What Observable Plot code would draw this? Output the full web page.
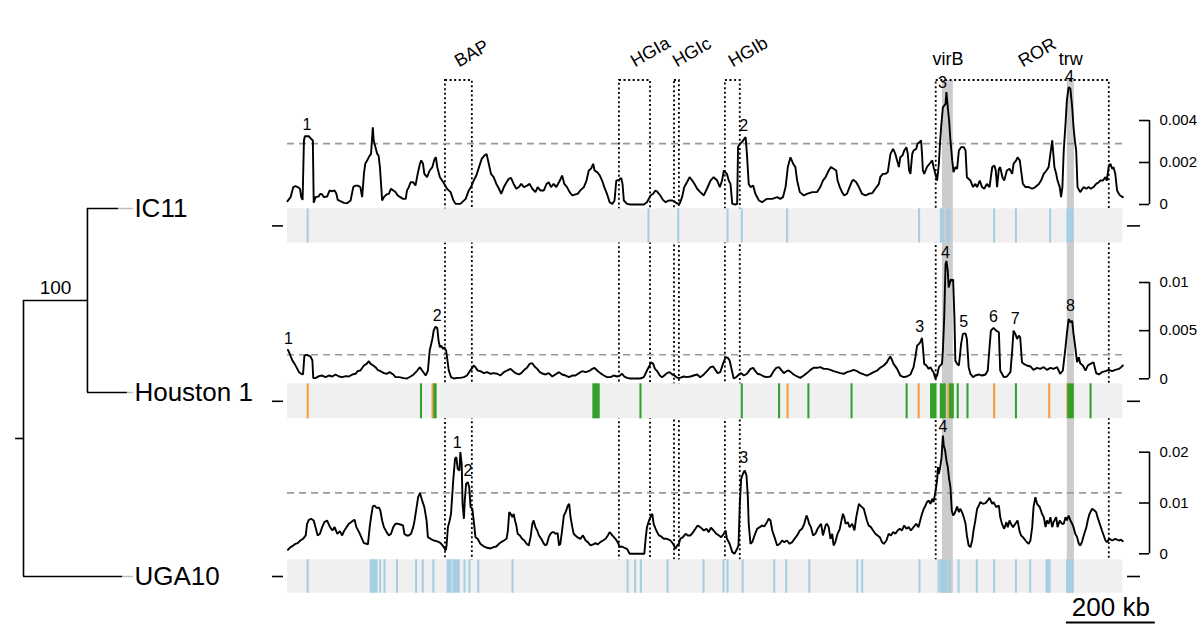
<!DOCTYPE html>
<html><head><meta charset="utf-8">
<script src="https://cdn.jsdelivr.net/npm/d3@7"></script>
<script src="https://cdn.jsdelivr.net/npm/@observablehq/plot@0.6"></script>
<style>
html,body{margin:0;padding:0;background:#fff;}
#fig{position:relative;width:1200px;height:640px;overflow:hidden;background:#fff;}
#fig svg{position:absolute;left:0;top:0;}
</style></head><body><div id="fig"></div>
<script>
// ---------- DATA ----------
const genomeLength = 1880;        // kb
const xDomain = [0, 1940];        // kb shown (genome + room for right axes)

// sliding-window density, [position kb, density x 1e-4]
const ic11Density = [[0,1.6],[7,3.5],[13,8.3],[18,8.7],[23,8.3],[28,7.5],[31,3.5],[34,2.2],[37,30.5],[39,32.5],[48,32.5],[53,31.3],[57,30.5],[59,0.8],[63,3.5],[70,3.8],[74,5.1],[78,4.8],[82,3.5],[89,3.8],[95,6.7],[100,6.3],[106,6.7],[110,5.1],[113,2.2],[119,1.6],[127,0.8],[134,0.6],[142,1.9],[148,8.3],[153,9.0],[158,9.0],[164,8.3],[168,3.5],[172,14.6],[175,19.4],[181,21.7],[185,23.3],[188,24.1],[192,36.8],[194,30.5],[198,27.3],[202,24.1],[205,23.3],[208,17.8],[211,8.3],[213,1.9],[217,3.5],[223,4.8],[228,5.1],[233,7.5],[238,6.7],[243,5.9],[248,4.3],[254,3.5],[260,2.7],[266,2.7],[269,6.7],[273,8.3],[277,10.6],[283,10.6],[288,9.0],[293,14.6],[298,19.4],[301,21.0],[305,19.4],[308,14.6],[314,13.0],[320,16.2],[326,17.8],[331,21.7],[334,22.5],[337,17.8],[343,13.0],[348,11.4],[353,9.8],[359,7.5],[367,5.9],[373,2.2],[378,0.3],[389,0.3],[401,2.7],[408,6.7],[413,8.3],[419,11.4],[425,13.8],[431,17.8],[437,21.7],[443,23.3],[448,24.1],[453,19.4],[458,14.6],[464,13.0],[470,9.8],[476,7.5],[481,5.1],[487,8.3],[493,10.6],[498,12.2],[503,12.7],[509,9.8],[515,7.5],[521,8.3],[526,9.8],[532,8.3],[539,9.0],[545,9.8],[551,7.5],[558,5.9],[563,8.3],[569,6.7],[577,6.7],[583,9.8],[588,10.6],[593,8.3],[599,9.8],[605,8.3],[613,11.4],[618,13.8],[623,9.8],[629,8.3],[635,5.9],[641,4.3],[648,4.8],[653,5.1],[659,6.7],[667,8.3],[673,11.4],[678,16.2],[683,17.0],[688,19.4],[691,16.2],[697,15.4],[703,13.8],[708,11.4],[713,8.3],[719,5.1],[725,1.1],[731,0.3],[736,1.9],[740,11.4],[746,11.7],[751,12.7],[754,9.8],[757,1.9],[764,0.3],[772,0],[802,0],[809,1.1],[817,4.3],[823,5.1],[828,6.7],[833,5.9],[839,4.3],[845,2.2],[851,1.1],[858,1.9],[866,1.9],[873,1.1],[878,0.3],[883,0.6],[888,3.5],[893,8.3],[899,10.6],[905,13.0],[911,11.4],[916,9.8],[922,7.5],[929,5.9],[937,4.3],[944,7.5],[952,11.4],[959,13.0],[967,11.4],[973,8.3],[978,11.4],[982,16.2],[985,15.4],[989,14.6],[993,11.4],[997,9.8],[1001,0.3],[1008,0],[1012,0.3],[1014,27.3],[1018,28.9],[1023,29.7],[1028,31.3],[1031,32.1],[1034,24.1],[1038,9.8],[1042,8.3],[1048,9.0],[1053,5.1],[1061,1.9],[1068,1.1],[1079,2.7],[1091,2.7],[1102,3.5],[1109,2.7],[1115,3.5],[1121,8.3],[1126,17.8],[1132,22.5],[1138,19.4],[1143,17.8],[1147,11.4],[1153,5.9],[1162,4.3],[1169,5.1],[1181,5.9],[1192,5.9],[1199,8.3],[1205,11.4],[1211,13.0],[1218,16.2],[1223,17.8],[1229,17.0],[1235,16.2],[1238,11.4],[1243,8.3],[1248,5.9],[1253,4.3],[1259,5.1],[1265,8.3],[1271,11.4],[1274,11.7],[1280,10.6],[1286,8.3],[1293,5.1],[1301,4.3],[1308,5.1],[1316,5.4],[1323,7.5],[1331,9.8],[1334,13.0],[1340,14.6],[1346,14.6],[1351,15.4],[1357,24.1],[1363,26.5],[1368,24.1],[1372,21.0],[1376,17.8],[1379,22.5],[1384,23.3],[1388,25.7],[1393,27.3],[1396,24.1],[1399,16.2],[1402,14.6],[1406,24.1],[1409,25.7],[1415,26.5],[1418,28.9],[1423,29.7],[1426,30.5],[1428,24.1],[1430,16.2],[1433,14.6],[1439,17.8],[1445,19.4],[1451,21.0],[1454,17.8],[1458,14.6],[1462,11.4],[1466,19.4],[1468,27.3],[1471,36.8],[1475,46.3],[1478,47.1],[1481,47.9],[1483,53.5],[1486,46.3],[1489,40.0],[1492,30.5],[1496,21.0],[1499,15.4],[1503,17.8],[1507,17.0],[1511,25.7],[1516,27.3],[1522,27.3],[1526,25.7],[1529,13.0],[1537,11.4],[1543,8.3],[1548,9.8],[1552,8.3],[1558,11.4],[1563,8.3],[1568,7.5],[1574,9.8],[1580,8.3],[1586,17.8],[1591,18.6],[1594,16.2],[1597,8.3],[1601,17.0],[1604,17.8],[1609,13.0],[1613,11.4],[1619,16.2],[1625,17.0],[1631,14.6],[1634,19.4],[1640,21.0],[1643,22.5],[1648,21.0],[1651,16.2],[1655,9.8],[1661,8.3],[1668,8.3],[1676,7.5],[1683,8.3],[1691,9.8],[1696,11.4],[1702,14.6],[1708,16.2],[1713,17.8],[1717,24.1],[1721,30.5],[1723,25.7],[1726,17.8],[1730,14.6],[1733,11.4],[1738,8.3],[1741,3.5],[1744,8.3],[1747,25.7],[1751,38.4],[1754,49.5],[1758,55.9],[1762,55.1],[1766,46.3],[1769,36.8],[1772,30.5],[1775,25.7],[1778,8.3],[1784,5.9],[1792,8.3],[1798,7.5],[1803,8.3],[1808,7.5],[1814,8.3],[1820,9.8],[1826,10.6],[1829,11.4],[1835,11.4],[1841,13.0],[1844,11.4],[1848,17.8],[1852,19.4],[1856,17.0],[1859,17.8],[1863,14.6],[1867,6.7],[1871,5.1],[1874,4.3],[1880,3.5]];

const houstonDensity = [[1,30.0],[5,25.9],[11,19.0],[16,15.5],[20,12.1],[26,6.9],[31,5.2],[35,4.5],[38,24.1],[44,24.8],[52,23.1],[56,19.0],[58,0.7],[63,0.7],[71,2.8],[78,3.4],[86,1.7],[93,3.4],[101,2.4],[108,4.5],[116,2.4],[123,1.7],[131,2.8],[138,2.4],[146,4.5],[153,5.2],[158,7.9],[164,8.6],[172,13.8],[178,15.5],[183,18.3],[187,15.5],[193,13.8],[198,12.1],[203,9.3],[209,7.9],[217,5.9],[223,5.2],[230,6.9],[238,4.5],[243,1.7],[251,1.7],[262,0.7],[269,0.3],[277,2.4],[284,4.5],[292,8.6],[298,12.1],[303,8.6],[311,3.4],[316,8.6],[320,29.3],[326,41.4],[329,50.0],[333,54.1],[337,52.8],[340,39.7],[343,32.8],[346,34.5],[350,31.0],[353,32.8],[357,29.3],[359,22.4],[363,8.6],[368,1.7],[374,0.3],[382,1.0],[389,1.0],[397,1.7],[404,3.4],[410,7.9],[416,11.4],[419,13.8],[423,12.1],[428,8.6],[434,7.9],[442,5.9],[449,6.9],[457,5.2],[464,5.9],[472,5.2],[479,3.4],[487,6.9],[494,8.6],[502,10.3],[508,7.9],[513,5.9],[521,4.5],[526,5.9],[533,9.3],[539,11.4],[545,15.5],[551,16.2],[556,12.8],[562,10.3],[568,6.9],[575,5.2],[581,4.5],[588,5.9],[596,2.4],[603,4.5],[611,6.9],[618,4.5],[626,3.4],[633,1.7],[641,3.4],[648,3.4],[656,5.9],[663,7.9],[671,6.9],[678,7.9],[686,10.3],[691,11.4],[697,8.6],[704,5.9],[712,3.4],[719,1.7],[727,1.7],[734,3.4],[742,2.4],[748,3.4],[753,5.2],[758,2.4],[764,1.0],[772,0.3],[794,0.3],[802,1.7],[809,8.6],[815,13.8],[818,17.2],[823,15.5],[827,10.3],[832,7.9],[838,3.4],[843,1.7],[848,3.4],[854,5.9],[860,6.9],[866,4.5],[871,3.4],[877,1.0],[883,1.0],[892,2.4],[899,1.7],[907,2.4],[914,3.4],[922,4.5],[929,1.7],[937,4.5],[944,7.9],[952,12.1],[958,12.8],[963,9.3],[968,5.9],[974,6.9],[980,15.5],[986,22.4],[991,21.7],[995,19.0],[1001,6.9],[1004,0.3],[1010,1.7],[1016,4.5],[1021,5.9],[1027,3.4],[1034,5.2],[1042,10.3],[1048,11.4],[1053,7.9],[1058,5.2],[1064,4.5],[1072,2.4],[1079,1.7],[1087,2.4],[1094,7.9],[1100,11.4],[1106,12.1],[1111,9.3],[1117,5.9],[1123,7.9],[1128,8.6],[1133,6.9],[1139,4.5],[1147,2.4],[1154,1.0],[1162,3.4],[1169,5.9],[1177,9.3],[1184,11.4],[1192,11.4],[1199,12.1],[1207,10.3],[1214,10.3],[1222,9.3],[1229,7.9],[1237,6.9],[1244,5.9],[1252,5.2],[1259,6.9],[1267,7.9],[1274,9.3],[1282,7.9],[1289,5.9],[1297,4.5],[1304,3.4],[1312,5.2],[1319,6.9],[1327,8.6],[1334,11.4],[1342,13.8],[1349,17.2],[1353,20.7],[1357,23.1],[1361,19.0],[1364,15.5],[1372,10.3],[1379,3.4],[1387,1.7],[1394,2.4],[1402,4.5],[1409,12.1],[1413,22.4],[1417,34.5],[1421,36.2],[1424,37.9],[1428,42.4],[1430,32.8],[1433,15.5],[1438,13.8],[1443,10.3],[1447,12.1],[1451,8.6],[1454,6.9],[1458,0.3],[1462,3.4],[1466,12.1],[1469,13.8],[1473,15.5],[1475,29.3],[1478,63.8],[1481,119.0],[1483,122.4],[1486,112.1],[1488,94.8],[1490,98.3],[1493,103.4],[1496,101.7],[1498,103.4],[1501,63.8],[1503,19.0],[1507,15.5],[1511,13.8],[1513,22.4],[1516,36.2],[1520,46.6],[1526,47.2],[1529,41.4],[1533,12.1],[1537,5.2],[1543,1.7],[1548,3.4],[1556,4.5],[1563,3.4],[1571,4.5],[1576,8.6],[1580,32.8],[1583,50.0],[1589,52.8],[1595,50.0],[1601,48.3],[1604,8.6],[1608,5.2],[1612,1.7],[1619,2.4],[1627,6.9],[1631,29.3],[1634,50.0],[1638,46.6],[1642,41.4],[1646,44.8],[1649,43.1],[1653,17.2],[1657,15.5],[1664,13.8],[1672,12.8],[1679,9.3],[1687,11.4],[1694,10.3],[1702,12.1],[1709,9.3],[1717,11.4],[1724,10.3],[1732,12.1],[1739,5.2],[1745,8.6],[1751,32.8],[1754,46.6],[1758,62.1],[1762,58.6],[1766,60.3],[1769,46.6],[1773,32.8],[1777,17.2],[1781,22.4],[1784,16.2],[1790,13.8],[1796,8.6],[1801,13.8],[1807,15.5],[1814,17.2],[1820,5.9],[1826,4.5],[1833,6.9],[1841,7.9],[1848,9.3],[1856,7.9],[1863,9.3],[1871,10.3],[1876,12.1],[1880,13.8]];

const uga10Density = [[1,7.9],[7,13.1],[13,16.4],[18,19.7],[23,21.0],[29,26.2],[35,29.5],[41,36.1],[44,59.1],[48,66.9],[53,68.9],[59,65.6],[63,52.5],[68,36.1],[73,39.4],[78,52.5],[83,62.3],[89,65.6],[95,53.8],[101,45.9],[106,52.5],[112,39.4],[118,44.6],[123,36.1],[128,45.9],[133,52.5],[138,59.1],[143,62.3],[148,65.6],[151,66.9],[155,52.5],[161,42.7],[166,32.8],[172,21.0],[178,19.7],[181,18.4],[185,52.5],[188,72.2],[192,93.2],[196,95.1],[200,90.6],[206,90.6],[209,85.3],[213,65.6],[217,52.5],[223,42.7],[228,36.1],[233,39.4],[238,52.5],[243,59.1],[248,59.1],[254,57.7],[260,55.8],[263,39.4],[268,36.1],[273,36.1],[278,39.4],[283,52.5],[286,65.6],[290,88.6],[294,111.5],[298,119.4],[303,105.0],[308,91.9],[313,65.6],[316,32.8],[322,29.5],[329,26.2],[335,24.9],[341,23.0],[346,19.7],[352,13.1],[356,6.6],[358,16.4],[361,52.5],[365,65.6],[368,78.7],[373,144.4],[377,187.0],[380,190.3],[383,167.3],[387,164.0],[389,200.1],[392,177.2],[394,98.4],[397,68.9],[399,105.0],[402,137.8],[406,141.1],[409,131.2],[412,91.9],[416,88.6],[419,65.6],[423,32.8],[428,29.5],[434,19.7],[442,14.4],[449,11.8],[457,10.5],[464,13.1],[470,14.4],[476,19.7],[481,23.0],[487,26.2],[493,29.5],[496,45.9],[499,82.0],[502,78.7],[506,72.2],[509,78.7],[512,65.6],[515,55.8],[518,39.4],[523,36.1],[528,29.5],[533,26.2],[538,19.7],[543,16.4],[547,32.8],[551,59.1],[554,65.6],[558,52.5],[562,45.9],[566,36.1],[571,29.5],[577,19.7],[581,16.4],[584,19.7],[588,32.8],[592,39.4],[596,42.7],[599,42.7],[603,39.4],[608,40.7],[611,16.4],[614,19.7],[618,45.9],[622,75.5],[626,82.0],[631,95.1],[634,98.4],[637,72.2],[641,52.5],[644,39.4],[648,36.1],[652,32.8],[659,29.5],[665,36.1],[671,26.2],[676,23.0],[682,16.4],[688,18.4],[693,21.0],[698,18.4],[704,23.0],[710,26.2],[716,29.5],[721,36.1],[725,42.7],[731,36.1],[738,29.5],[743,23.0],[748,13.1],[753,14.4],[758,11.8],[764,9.8],[770,0],[803,0],[806,29.5],[809,52.5],[815,68.9],[821,78.7],[824,59.1],[830,45.9],[836,36.1],[841,34.1],[847,29.5],[854,29.5],[862,26.2],[868,19.7],[873,9.8],[877,16.4],[881,19.7],[884,29.5],[890,32.8],[896,39.4],[901,36.1],[907,36.1],[913,42.7],[918,49.2],[923,55.8],[929,52.5],[937,45.9],[943,49.2],[948,42.7],[953,51.2],[959,45.9],[965,39.4],[971,36.1],[976,32.8],[982,39.4],[986,45.9],[989,29.5],[995,19.7],[1001,3.3],[1006,0],[1012,9.8],[1015,16.4],[1018,98.4],[1021,147.6],[1025,157.5],[1029,164.0],[1033,154.2],[1036,111.5],[1038,59.1],[1042,19.7],[1046,23.0],[1051,36.1],[1057,49.2],[1063,52.5],[1068,55.8],[1073,53.8],[1079,62.3],[1083,68.9],[1087,65.6],[1091,45.9],[1096,32.8],[1102,16.4],[1108,19.7],[1113,26.2],[1118,23.0],[1124,26.2],[1130,19.7],[1136,23.0],[1141,29.5],[1147,36.1],[1153,45.9],[1158,49.2],[1163,59.1],[1168,75.5],[1171,68.9],[1174,59.1],[1178,52.5],[1183,36.1],[1188,39.4],[1193,49.2],[1198,55.8],[1201,59.1],[1205,36.1],[1211,55.8],[1214,59.1],[1218,52.5],[1222,29.5],[1226,39.4],[1229,16.4],[1233,23.0],[1238,39.4],[1243,49.2],[1246,62.3],[1250,78.7],[1253,72.2],[1256,59.1],[1261,62.3],[1265,52.5],[1271,59.1],[1276,45.9],[1280,72.2],[1283,85.3],[1286,98.4],[1289,95.1],[1293,91.9],[1297,88.6],[1301,75.5],[1304,65.6],[1308,55.8],[1313,52.5],[1318,45.9],[1323,39.4],[1328,36.1],[1333,32.8],[1338,23.0],[1342,19.7],[1348,26.2],[1353,39.4],[1358,36.1],[1363,42.7],[1368,39.4],[1373,45.9],[1378,49.2],[1383,45.9],[1388,55.8],[1393,49.2],[1398,52.5],[1403,45.9],[1409,52.5],[1415,59.1],[1420,52.5],[1424,65.6],[1428,78.7],[1432,88.6],[1436,95.1],[1439,101.7],[1443,105.0],[1447,98.4],[1451,108.3],[1454,101.7],[1458,121.4],[1462,144.4],[1464,170.6],[1466,157.5],[1469,170.6],[1472,190.3],[1475,232.9],[1477,213.3],[1480,203.4],[1483,183.7],[1486,170.6],[1489,147.6],[1492,131.2],[1495,85.3],[1498,75.5],[1501,78.7],[1504,85.3],[1507,93.2],[1511,82.0],[1514,88.6],[1518,82.0],[1522,72.2],[1526,59.1],[1529,36.1],[1533,16.4],[1537,13.1],[1541,26.2],[1544,45.9],[1548,65.6],[1552,88.6],[1556,95.1],[1559,101.7],[1565,98.4],[1571,99.7],[1576,105.0],[1580,110.2],[1586,98.4],[1589,101.7],[1595,91.9],[1601,95.1],[1604,72.2],[1608,59.1],[1613,49.2],[1618,62.3],[1621,52.5],[1625,65.6],[1628,59.1],[1633,52.5],[1638,59.1],[1643,65.6],[1648,42.7],[1651,36.1],[1655,32.8],[1661,26.2],[1664,23.0],[1668,19.7],[1672,26.2],[1676,52.5],[1679,91.9],[1683,111.5],[1687,98.4],[1693,91.9],[1698,78.7],[1702,72.2],[1706,52.5],[1709,65.6],[1713,59.1],[1717,72.2],[1721,52.5],[1724,62.3],[1730,72.2],[1733,52.5],[1738,65.6],[1743,59.1],[1747,59.1],[1751,72.2],[1754,65.6],[1758,75.5],[1762,65.6],[1766,59.1],[1769,52.5],[1773,39.4],[1777,32.8],[1781,19.7],[1784,16.4],[1788,23.0],[1792,36.1],[1798,52.5],[1801,65.6],[1805,78.7],[1811,88.6],[1816,85.3],[1820,82.0],[1823,72.2],[1828,59.1],[1833,45.9],[1837,36.1],[1841,26.2],[1844,23.0],[1850,29.5],[1856,26.2],[1863,29.5],[1871,26.2],[1876,27.6],[1880,24.9]];

// numbered peaks: position kb, peak density x 1e-4
const ic11Peaks = [{kb:44,v:32.5,label:"1"},{kb:1027,v:32.1,label:"2"},{kb:1474,v:52.9,label:"3"},{kb:1760,v:55.5,label:"4"}];
const houstonPeaks = [{kb:2,v:30.3,label:"1"},{kb:337,v:54,label:"2"},{kb:1423,v:43,label:"3"},{kb:1481,v:119,label:"4"},{kb:1522,v:48,label:"5"},{kb:1589,v:53.4,label:"6"},{kb:1638,v:51.3,label:"7"},{kb:1762,v:63.8,label:"8"}];
const uga10Peaks = [{kb:382,v:197,label:"1"},{kb:406,v:141,label:"2"},{kb:1027,v:167,label:"3"},{kb:1475,v:227.6,label:"4"}];

// events along genome: [start kb, end kb]
const ic11Events = [[46,47],[813,814],[880,881],[991,992],[1023,1024],[1125,1126],[1422,1423],[1471,1476],[1486,1491],[1591,1592],[1640,1641],[1717,1718],[1756,1768]];
const houstonGreen = [[301,302],[331,335],[689,702],[795,796],[1023,1024],[1107,1108],[1173,1174],[1270,1271],[1394,1395],[1449,1460],[1471,1481],[1492,1499],[1509,1510],[1531,1532],[1640,1641],[1758,1769],[1808,1809]];
const houstonOrange = [[46,47],[327,328],[1126,1127],[1421,1422],[1488,1492],[1591,1592],[1715,1716],[1756,1757]];
const uga10Events = [[46,47],[188,202],[209,210],[219,220],[247,248],[290,291],[305,306],[329,330],[361,369],[374,387],[399,400],[410,411],[430,431],[507,508],[766,767],[783,784],[796,797],[856,857],[937,938],[982,983],[991,992],[1025,1026],[1096,1097],[1123,1124],[1175,1176],[1283,1284],[1294,1295],[1423,1424],[1466,1467],[1471,1484],[1490,1491],[1511,1512],[1552,1553],[1591,1592],[1640,1641],[1672,1673],[1709,1717],[1755,1768]];

// genomic regions
const regionBoxes = [
  {name:"BAP", start:355.5, end:416},
  {name:"HGIa", start:747, end:817},
  {name:"HGIc", start:871, end:882},
  {name:"HGIb", start:985.5, end:1019},
  {name:"ROR", start:1460, end:1849.5}
];
const regionBands = [
  {name:"virB", start:1474, end:1498.5},
  {name:"trw", start:1755, end:1771}
];

// tree (branch lengths, arbitrary units)
const treeNodes = [
  {id:"root", parent:null, length:0},
  {id:"clade", parent:"root", length:0.646, support:"100"},
  {id:"IC11", parent:"clade", length:0.314},
  {id:"Houston 1", parent:"clade", length:0.404},
  {id:"UGA10", parent:"root", length:1.0}
];
const tipOrder = ["IC11", "Houston 1", "UGA10"];

const scaleBar = {start:1753, length:200, label:"200 kb"};

// ---------- STYLE / LAYOUT ----------
const blue = "#a6cee3", green = "#33a02c", orange = "#fb9a3c";
const font = "'Liberation Sans', Arial, Helvetica, sans-serif";
const baseStyle = {background:"transparent", fontFamily:font, fontSize:"15px", overflow:"visible", color:"#000"};
const W = 1200, H = 640, ML = 287, MR = 51;

const tracks = [
  {density: ic11Density, threshold:0.0029, ticks:[0,0.002,0.004], peaks: ic11Peaks,
   events:[{list: ic11Events, color: blue}], frame:[80,210], yRange:[204,120], strip:[208.3,242.5], labels:true},
  {density: houstonDensity, threshold:0.0025, ticks:[0,0.005,0.01], peaks: houstonPeaks,
   events:[{list: houstonOrange, color: orange},{list: houstonGreen, color: green}], frame:[241,386], yRange:[378.3,282], strip:[383.3,418.3]},
  {density: uga10Density, threshold:0.012, ticks:[0,0.01,0.02], peaks: uga10Peaks,
   events:[{list: uga10Events, color: blue}], frame:[416,561], yRange:[553.3,451.7], strip:[559.3,592.7]}
];

const fig = document.getElementById("fig");

// ---------- TREE ----------
(function(){
  const byId = new Map(treeNodes.map(d => [d.id, {...d, children:[]}]));
  for (const n of byId.values()) if (n.parent) byId.get(n.parent).children.push(n);
  const root = byId.get("root");
  (function setDepth(n, d){ n.depth = d + n.length; n.children.forEach(c => setDepth(c, n.depth)); })(root, 0);
  (function setY(n){
    if (!n.children.length) { n.y = tipOrder.indexOf(n.id); return n.y; }
    const ys = n.children.map(setY);
    n.y = d3.mean([d3.min(ys), d3.max(ys)]);
    n.ymin = d3.min(ys); n.ymax = d3.max(ys);
    return n.y;
  })(root);
  const nodes = [...byId.values()];
  const tips = nodes.filter(n => !n.children.length);
  const internals = nodes.filter(n => n.children.length);
  const edges = nodes.filter(n => n.parent).map(n => ({x1: byId.get(n.parent).depth, x2: n.depth, y: n.y}));
  const alignX = d3.max(tips, d => d.depth) + 0.06;
  const supports = nodes.filter(n => n.support).map(n => ({x: (byId.get(n.parent).depth + n.depth) / 2, y: n.y, text: n.support}));
  fig.appendChild(Plot.plot({
    width:W, height:H, style: baseStyle,
    x:{domain:[0,1], range:[23,122], axis:null},
    y:{domain:[0,2], range:[208,576], axis:null},
    marks:[
      Plot.ruleY(tips, {y:"y", x1:"depth", x2:() => alignX, stroke:"#bdbdbd", strokeWidth:1.5}),
      Plot.ruleY(edges, {y:"y", x1:"x1", x2:"x2", stroke:"#000", strokeWidth:1.6}),
      Plot.ruleX(internals, {x:"depth", y1:"ymin", y2:"ymax", stroke:"#000", strokeWidth:1.6}),
      Plot.ruleY([root], {y:"y", x1:() => -0.08, x2:() => 0, stroke:"#000", strokeWidth:1.6}),
      Plot.text(tips, {x:() => alignX, y:"y", text:"id", textAnchor:"start", dx:1, fontSize:26}),
      Plot.text(supports, {x:"x", y:"y", text:"text", dy:-13, fontSize:19})
    ]
  }));
})();

// ---------- DENSITY TRACKS ----------
for (const t of tracks) {
  const yMax = t.ticks[t.ticks.length - 1];
  const marks = [
    Plot.rect(regionBands, {x1:"start", x2:"end", fill:"#cccccc"}),
    Plot.rect(regionBoxes, {x1:"start", x2:"end", fill:"none", stroke:"#000", strokeWidth:1.8, strokeDasharray:"2,2.6"}),
    Plot.ruleY([t.threshold], {y:d => d, x1:() => 0, x2:() => genomeLength, stroke:"#9a9a9a", strokeWidth:1.6, strokeDasharray:"7,5"}),
    Plot.line(t.density, {x:d => d[0], y:d => d[1] * 1e-4, stroke:"#000", strokeWidth:1.9, strokeLinejoin:"miter"}),
    Plot.text(t.peaks, {x:"kb", y:d => d.v * 1e-4, text:"label", dy:-11, fontSize:16}),
    Plot.ruleX([xDomain[1]], {x:d => d, y1:() => 0, y2:() => yMax, stroke:"#000", strokeWidth:1.6}),
    Plot.tickY(t.ticks, {y:d => d, insetLeft:852, stroke:"#000", strokeWidth:1.6})
  ];
  if (t.labels) {
    marks.push(
      Plot.text(regionBoxes, {x:d => (d.start + d.end) / 2, frameAnchor:"top", text:"name", rotate:-30, textAnchor:"start", lineAnchor:"bottom", dy:-13, fontSize:18}),
      Plot.text(regionBands, {x:d => (d.start + d.end) / 2, frameAnchor:"top", text:"name", lineAnchor:"bottom", dy:-16, fontSize:18})
    );
  }
  fig.appendChild(Plot.plot({
    width:W, height:H, marginLeft:ML, marginRight:MR, marginTop:t.frame[0], marginBottom:H - t.frame[1],
    style: baseStyle,
    x:{domain:xDomain, axis:null},
    y:{domain:[0, yMax], range:t.yRange, axis:"right", ticks:t.ticks, tickSize:0, tickPadding:10,
       tickFormat:d => d === 0 ? "0" : String(d), label:null},
    marks
  }));
}

// ---------- EVENT STRIPS ----------
for (const t of tracks) {
  fig.appendChild(Plot.plot({
    width:W, height:H, marginLeft:ML, marginRight:MR, marginTop:t.strip[0], marginBottom:H - t.strip[1],
    style: baseStyle,
    x:{domain:xDomain, axis:null},
    y:{domain:[0,1], axis:null},
    marks:[
      Plot.rect([{start:0, end:genomeLength}], {x1:"start", x2:"end", fill:"#f0f0f0"}),
      Plot.rect(regionBands, {x1:"start", x2:"end", fill:"#cccccc"}),
      ...t.events.map(e => Plot.rect(e.list, {x1:d => d[0], x2:d => d[1], fill:e.color, insetLeft:-0.8, insetRight:-0.8})),
      Plot.tickY([0.5], {y:d => d, insetLeft:-15, insetRight:866, stroke:"#000", strokeWidth:1.6}),
      Plot.tickY([0.5], {y:d => d, insetLeft:840, insetRight:9, stroke:"#000", strokeWidth:1.6})
    ]
  }));
}

// ---------- SCALE BAR ----------
fig.appendChild(Plot.plot({
  width:W, height:H, marginLeft:ML, marginRight:MR, marginTop:598, marginBottom:18,
  style: baseStyle,
  x:{domain:xDomain, axis:null},
  y:{domain:[0,1], range:[622,600], axis:null},
  marks:[
    Plot.ruleY([scaleBar], {y:() => 0, x1:d => d.start, x2:d => d.start + d.length, stroke:"#000", strokeWidth:2}),
    Plot.text([scaleBar], {x:d => d.start + d.length / 2, y:() => 0, text:"label", dy:-15, fontSize:26})
  ]
}));
</script></body></html>
